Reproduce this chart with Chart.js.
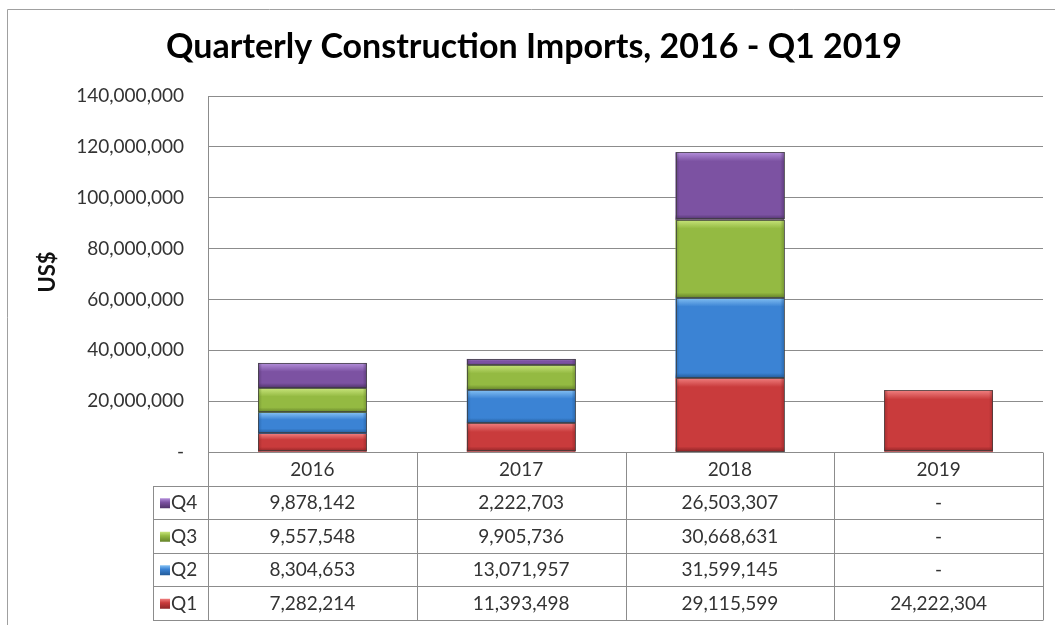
<!DOCTYPE html>
<html><head><meta charset="utf-8">
<script src="https://cdn.jsdelivr.net/npm/chart.js@4/dist/chart.umd.min.js"></script>
<style>html,body{margin:0;padding:0;background:#fff;}#wrap{width:1055px;height:625px;position:relative;}</style>
</head><body><div id="wrap"><canvas id="c" width="1055" height="625"></canvas></div>
<script>
const categories = ['2016', '2017', '2018', '2019'];
const seriesNames = ['Q1', 'Q2', 'Q3', 'Q4'];
const q1 = [7282214, 11393498, 29115599, 24222304];
const q2 = [8304653, 13071957, 31599145, 0];
const q3 = [9557548, 9905736, 30668631, 0];
const q4 = [9878142, 2222703, 26503307, 0];
const yTicks = [0, 20000000, 40000000, 60000000, 80000000, 100000000, 120000000, 140000000];
const titleText = 'Quarterly Construction Imports, 2016 - Q1 2019';
const yTitle = 'US$';

const palette = {
  Q1: {base: '#c93b3c', light: '#f08080', dark: '#8e2426'},
  Q2: {base: '#3b83d4', light: '#86c2f4', dark: '#225a98'},
  Q3: {base: '#94ba42', light: '#c9e57c', dark: '#65832a'},
  Q4: {base: '#7c52a2', light: '#b590dc', dark: '#4f3269'}
};
const FONT = "Lato, 'Open Sans', sans-serif";
const fmt = v => v === 0 ? '-' : v.toLocaleString('en-US');

const seriesData = [q1, q2, q3, q4];
const datasets = seriesNames.map((n, i) => ({
  label: n,
  data: seriesData[i],
  backgroundColor: palette[n].base,
  borderColor: palette[n].dark,
  borderWidth: 0,
  borderSkipped: false,
  categoryPercentage: 1,
  barPercentage: 0.52
}));

function rgba(hex, a) {
  const n = parseInt(hex.slice(1), 16);
  return `rgba(${n >> 16},${(n >> 8) & 255},${n & 255},${a})`;
}

const decorPlugin = {
  id: 'decor',
  afterDatasetsDraw(chart) {
    const ctx = chart.ctx;
    ctx.save();
    chart.data.datasets.forEach((ds, di) => {
      const meta = chart.getDatasetMeta(di);
      const p = palette[ds.label];
      meta.data.forEach(el => {
        const top = Math.min(el.y, el.base), bot = Math.max(el.y, el.base);
        const h = bot - top;
        if (h < 0.5) return;
        const l = el.x - el.width / 2, r = el.x + el.width / 2;
        // top highlight
        const th = Math.min(9, h * 0.35);
        let g = ctx.createLinearGradient(0, top, 0, top + th);
        g.addColorStop(0, rgba(p.light, 1));
        g.addColorStop(1, rgba(p.light, 0));
        ctx.fillStyle = g;
        ctx.fillRect(l, top, r - l, th);
        // bottom shadow
        const bh = Math.min(5, h * 0.25);
        g = ctx.createLinearGradient(0, bot - bh, 0, bot);
        g.addColorStop(0, rgba(p.dark, 0));
        g.addColorStop(1, rgba(p.dark, 1));
        ctx.fillStyle = g;
        ctx.fillRect(l, bot - bh, r - l, bh);
        // side shading
        const sw = 4;
        g = ctx.createLinearGradient(l, 0, l + sw, 0);
        g.addColorStop(0, rgba(p.dark, 0.6)); g.addColorStop(1, rgba(p.dark, 0));
        ctx.fillStyle = g; ctx.fillRect(l, top, sw, h);
        g = ctx.createLinearGradient(r - sw, 0, r, 0);
        g.addColorStop(0, rgba(p.dark, 0)); g.addColorStop(1, rgba(p.dark, 0.6));
        ctx.fillStyle = g; ctx.fillRect(r - sw, top, sw, h);
        // outline
        ctx.strokeStyle = 'rgba(60,60,60,0.75)';
        ctx.lineWidth = 1;
        ctx.strokeRect(Math.round(l) + 0.5, Math.round(top) + 0.5, Math.round(r - l) - 1, Math.max(0, Math.round(h) - 1));
      });
    });
    ctx.restore();
  },
  afterDraw(chart) {
    const ctx = chart.ctx;
    const area = chart.chartArea;
    const xs = chart.scales.x;
    ctx.save();
    // outer frame (top and left)
    ctx.strokeStyle = '#a0a0a0';
    ctx.lineWidth = 1;
    ctx.beginPath();
    ctx.moveTo(7.5, 625); ctx.lineTo(7.5, 9.5); ctx.lineTo(1055, 9.5);
    ctx.stroke();

    // title
    ctx.fillStyle = '#000';
    ctx.font = "bold 34px " + FONT;
    ctx.textAlign = 'center';
    ctx.textBaseline = 'middle';
    ctx.fillText(titleText, 534, 47);

    // y title
    ctx.save();
    ctx.translate(48, 272);
    ctx.rotate(-Math.PI / 2);
    ctx.font = "bold 22px " + FONT;
    ctx.fillStyle = '#111';
    ctx.fillText(yTitle, 0, 0);
    ctx.restore();

    // data table
    const rowH = 33.5;
    const tTop = area.bottom;
    const nRows = seriesNames.length;
    const tBot = tTop + rowH * (nRows + 1);
    const legL = 153;
    const colW = xs.getPixelForValue(1) - xs.getPixelForValue(0);
    ctx.strokeStyle = '#8c8c8c';
    ctx.lineWidth = 1;
    ctx.beginPath();
    for (let r = 1; r <= nRows + 1; r++) {
      const y = Math.round(tTop + rowH * r) + 0.5;
      ctx.moveTo(legL, y); ctx.lineTo(area.right, y);
    }
    ctx.moveTo(area.left, Math.round(tTop) + 0.5); ctx.lineTo(area.right, Math.round(tTop) + 0.5);
    ctx.moveTo(legL + 0.5, Math.round(tTop + rowH) + 0.5); ctx.lineTo(legL + 0.5, Math.round(tBot) + 0.5);
    for (let c = 0; c <= categories.length; c++) {
      const x = Math.round(xs.getPixelForValue(c) - colW / 2) + 0.5;
      ctx.moveTo(x, Math.round(tTop) + 0.5); ctx.lineTo(x, Math.round(tBot) + 0.5);
    }
    ctx.stroke();

    ctx.font = "19px " + FONT;
    ctx.fillStyle = '#333';
    ctx.textAlign = 'center';
    ctx.textBaseline = 'middle';
    categories.forEach((cat, i) => {
      ctx.fillText(cat, xs.getPixelForValue(i), tTop + rowH / 2 + 1);
    });
    for (let r = 0; r < nRows; r++) {
      const si = nRows - 1 - r;
      const name = seriesNames[si];
      const yc = tTop + rowH * (r + 1) + rowH / 2 + 1;
      const p = palette[name];
      const kg = ctx.createLinearGradient(0, yc - 5, 0, yc + 5);
      kg.addColorStop(0, p.light); kg.addColorStop(0.4, p.base); kg.addColorStop(1, p.dark);
      ctx.fillStyle = kg;
      ctx.fillRect(160, yc - 5, 10, 10);
      ctx.fillStyle = '#333';
      ctx.textAlign = 'left';
      ctx.fillText(name, 171, yc);
      ctx.textAlign = 'center';
      seriesData[si].forEach((v, ci) => {
        ctx.fillText(fmt(v), xs.getPixelForValue(ci), yc);
      });
    }
    ctx.restore();
  }
};

new Chart(document.getElementById('c'), {
  type: 'bar',
  data: { labels: categories, datasets },
  options: {
    responsive: false,
    animation: false,
    layout: { padding: { left: 0, right: 12, top: 96, bottom: 173 } },
    plugins: { legend: { display: false }, title: { display: false }, tooltip: { enabled: false } },
    scales: {
      x: { stacked: true, display: false },
      y: {
        stacked: true,
        min: 0, max: 140000000,
        afterFit(s) { s.width = 208; },
        afterBuildTicks(s) { s.ticks = yTicks.map(v => ({ value: v })); },
        ticks: {
          padding: 24,
          color: '#333',
          font: { family: FONT, size: 19 },
          callback: v => fmt(v)
        },
        grid: { color: '#8c8c8c', drawTicks: false, lineWidth: 1 },
        border: { color: '#8c8c8c', width: 1 }
      }
    }
  },
  plugins: [decorPlugin]
});
</script>
</body></html>
